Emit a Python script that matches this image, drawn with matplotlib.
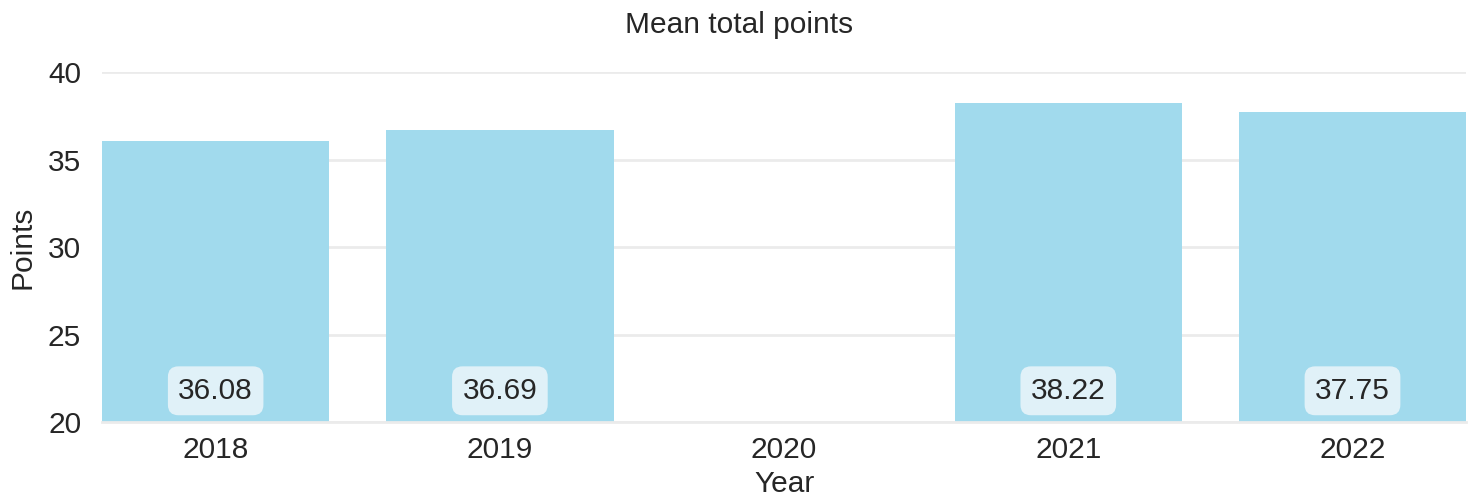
import numpy as np
import matplotlib.pyplot as plt

years = ['2018', '2019', '2020', '2021', '2022']
mean_points = [36.08, 36.69, np.nan, 38.22, 37.75]

plt.rcParams['font.family'] = ['Liberation Sans', 'DejaVu Sans']

fig, ax = plt.subplots(figsize=(14.78, 4.98), dpi=100)
fig.subplots_adjust(left=0.069, right=0.992, top=0.855, bottom=0.152)

x = np.arange(len(years))
ax.bar(x, mean_points, width=0.8, color='#a1daed', zorder=2)

for xi, v in zip(x, mean_points):
    if np.isnan(v):
        continue
    ax.text(xi, 21.8, f'{v:.2f}', ha='center', va='center', fontsize=21.5, color='#262626',
            zorder=3, bbox=dict(boxstyle='round,pad=0.35', fc='#e0f1f8', ec='none'))

ax.set_xlim(-0.4, 4.4)
ax.set_ylim(20, 40)
ax.set_yticks([20, 25, 30, 35, 40])
ax.set_xticks(x)
ax.set_xticklabels(years)
ax.tick_params(axis='both', labelsize=21.5, colors='#262626', length=0)
ax.tick_params(axis='y', pad=15)
ax.tick_params(axis='x', pad=10)
ax.grid(axis='y', color='#ebebeb', linewidth=2, zorder=0)
for s in ['top', 'right', 'left']:
    ax.spines[s].set_visible(False)
ax.spines['bottom'].set_color('#ebebeb')
ax.spines['bottom'].set_linewidth(2)
ax.set_xlabel('Year', fontsize=21.5, color='#262626', labelpad=4)
ax.set_ylabel('Points', fontsize=21.5, color='#262626', labelpad=8)
fig.suptitle('Mean total points', fontsize=21.5, color='#262626', x=0.5, y=0.95, va='center')

plt.savefig('out.png', dpi=100)
